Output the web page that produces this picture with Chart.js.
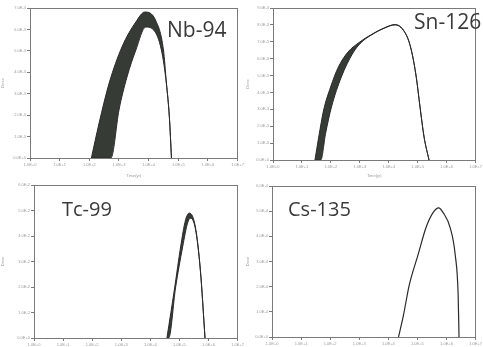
<!DOCTYPE html>
<html><head><meta charset="utf-8">
<script src="https://cdn.jsdelivr.net/npm/chart.js@4"></script>
<style>
html,body{margin:0;padding:0;background:#fff;width:483px;height:347px;overflow:hidden;position:relative;}
.pane{position:absolute;}
.lbl{position:absolute;font-family:"Open Sans",sans-serif;color:#3a3a3a;line-height:1;white-space:nowrap;}
</style></head><body>
<div class="pane" id="b1"><canvas id="c1"></canvas></div>
<div class="pane" id="b2"><canvas id="c2"></canvas></div>
<div class="pane" id="b3"><canvas id="c3"></canvas></div>
<div class="pane" id="b4"><canvas id="c4"></canvas></div>
<div class="lbl" style="left:167px;top:19px;font-size:21px;">Nb-94</div>
<div class="lbl" style="left:414px;top:11px;font-size:21px;">Sn-126</div>
<div class="lbl" style="left:62px;top:199px;font-size:20px;">Tc-99</div>
<div class="lbl" style="left:288px;top:199px;font-size:20px;">Cs-135</div>
<script>
// ---- data ----
const xTickLabels = ['1.0E+0','1.0E+1','1.0E+2','1.0E+3','1.0E+4','1.0E+5','1.0E+6','1.0E+7'];
const yTicksNb = ['0.0E+0','1.0E-3','2.0E-3','3.0E-3','4.0E-3','5.0E-3','6.0E-3','7.0E-3'];
const yTicksSn = ['0.0E+0','1.0E-3','2.0E-3','3.0E-3','4.0E-3','5.0E-3','6.0E-3','7.0E-3','8.0E-3','9.0E-3'];
const yTicksTc = ['0.0E+0','1.0E-2','2.0E-2','3.0E-2','4.0E-2','5.0E-2','6.0E-2'];
const yTicksCs = ['0.0E+0','1.0E-4','2.0E-4','3.0E-4','4.0E-4','5.0E-4','6.0E-4'];

const nbUpperX = [2.07, 2.33, 2.67, 3.10, 3.57, 3.87, 4.23, 4.50, 4.60, 4.70, 4.77];
const nbUpperY = [0.00, 1.63, 3.50, 5.18, 6.35, 6.81, 6.44, 5.04, 3.50, 1.91, 0.00];
const nbLowerX = [2.07, 2.73, 3.00, 3.27, 3.57, 3.90, 4.17, 4.43, 4.60, 4.70, 4.77];
const nbLowerY = [0.00, 0.00, 2.24, 3.78, 5.04, 6.11, 5.97, 5.04, 3.45, 1.88, 0.00];

const snUpperX = [1.45, 1.58, 1.75, 1.99, 2.26, 2.59, 3.00, 3.37, 3.84, 4.22, 4.61, 4.78, 4.95, 5.08, 5.22, 5.39];
const snUpperY = [0.00, 1.36, 2.96, 4.32, 5.51, 6.39, 6.99, 7.40, 7.82, 8.02, 7.40, 6.51, 4.91, 3.14, 1.36, 0.00];
const snLowerX = [1.45, 1.65, 1.82, 2.02, 2.36, 2.76, 3.03, 3.37, 3.84, 4.22, 4.61, 4.78, 4.95, 5.08, 5.22, 5.39];
const snLowerY = [0.00, 0.00, 1.60, 3.14, 4.91, 6.33, 6.93, 7.37, 7.80, 8.00, 7.38, 6.49, 4.90, 3.13, 1.35, 0.00];

const tcUpperX = [4.57, 4.84, 5.04, 5.21, 5.34, 5.55, 5.72, 5.88];
const tcUpperY = [0.00, 2.00, 3.57, 4.63, 4.90, 4.35, 2.67, 0.00];
const tcLowerX = [4.57, 4.63, 4.87, 5.11, 5.28, 5.38, 5.55, 5.72, 5.88];
const tcLowerY = [0.00, 0.00, 2.00, 3.57, 4.51, 4.70, 4.27, 2.65, 0.00];

const csX = [4.35, 4.52, 4.72, 5.02, 5.29, 5.53, 5.73, 5.89, 6.13, 6.30, 6.40, 6.43];
const csY = [0.00, 0.87, 2.07, 3.26, 4.33, 4.93, 5.13, 4.93, 4.33, 3.26, 1.67, 0.00];

// ---- helpers ----
const pts = (xs, ys) => xs.map((x, i) => ({x: x, y: ys[i]}));
const FILL = '#363b36';
const tickFont = {family: 'Liberation Sans', size: 4};
const TICKCOL = '#9a9a9a';
const AXCOL = '#7a7a7a';

function panel(id, box, area, yLabels, datasets, xTitle, yTitle) {
  const wrap = document.getElementById('b' + id);
  wrap.style.left = box.l + 'px'; wrap.style.top = box.t + 'px';
  wrap.style.width = box.w + 'px'; wrap.style.height = box.h + 'px';
  const cv = document.getElementById('c' + id);
  cv.width = box.w; cv.height = box.h;
  const wl = area.l - box.l, wr = box.l + box.w - area.r;
  const ht = area.t - box.t, hb = box.t + box.h - area.b;
  const border = {display: true, color: AXCOL, width: 1, dash: [1, 2]};
  new Chart(cv, {
    type: 'scatter',
    data: {datasets: datasets},
    options: {
      responsive: false, animation: false,
      layout: {padding: 0},
      plugins: {legend: {display: false}, tooltip: {enabled: false}},
      elements: {point: {radius: 0}},
      scales: {
        x: {type: 'linear', min: 0, max: 7, position: 'bottom',
            border: border,
            grid: {drawOnChartArea: false, drawTicks: true, tickLength: 3, color: AXCOL},
            ticks: {stepSize: 1, font: tickFont, color: TICKCOL, padding: 1, maxRotation: 0,
                    callback: (v) => xTickLabels[Math.round(v)] ?? ''},
            title: {display: !!xTitle, text: xTitle, font: {size: 4}, color: TICKCOL, padding: 0},
            afterFit: s => { s.height = hb; }},
        x2: {type: 'linear', min: 0, max: 7, position: 'top',
            border: border, grid: {display: false}, ticks: {display: false},
            afterFit: s => { s.height = ht; }},
        y: {type: 'linear', min: 0, max: yLabels.length - 1, position: 'left',
            border: border,
            grid: {drawOnChartArea: false, drawTicks: true, tickLength: 3, color: AXCOL},
            ticks: {stepSize: 1, font: tickFont, color: TICKCOL, padding: 1,
                    callback: (v) => yLabels[Math.round(v)] ?? ''},
            title: {display: true, text: yTitle, font: {size: 4}, color: TICKCOL, padding: 0},
            afterFit: s => { s.width = wl; }},
        y2: {type: 'linear', min: 0, max: yLabels.length - 1, position: 'right',
            border: border, grid: {display: false}, ticks: {display: false},
            afterFit: s => { s.width = wr; }}
      }
    }
  });
}

function band(up, lo) {
  return [
    {data: up, showLine: true, borderColor: '#2a2a2a', borderWidth: 1, fill: false,
     cubicInterpolationMode: 'monotone', pointRadius: 0},
    {data: lo, showLine: true, borderColor: '#2a2a2a', borderWidth: 1, fill: '-1',
     backgroundColor: FILL, cubicInterpolationMode: 'monotone', pointRadius: 0}
  ];
}

panel(1, {l: 0, t: 0, w: 245, h: 178}, {l: 30, t: 8, r: 241, b: 158}, yTicksNb,
      band(pts(nbUpperX, nbUpperY), pts(nbLowerX, nbLowerY)), 'Time(yr)', 'Dose');
panel(2, {l: 245, t: 0, w: 238, h: 178}, {l: 273, t: 8, r: 481, b: 160}, yTicksSn,
      band(pts(snUpperX, snUpperY), pts(snLowerX, snLowerY)), 'Time(yr)', 'Dose');
panel(3, {l: 0, t: 178, w: 245, h: 169}, {l: 34, t: 185, r: 241, b: 338}, yTicksTc,
      band(pts(tcUpperX, tcUpperY), pts(tcLowerX, tcLowerY)), '', 'Dose');
panel(4, {l: 245, t: 178, w: 238, h: 169}, {l: 272, t: 186, r: 481, b: 337}, yTicksCs,
      [{data: pts(csX, csY), showLine: true, borderColor: '#2a2a2a', borderWidth: 1.2, fill: false,
        cubicInterpolationMode: 'monotone', pointRadius: 0}], '', 'Dose');
</script>
</body></html>
